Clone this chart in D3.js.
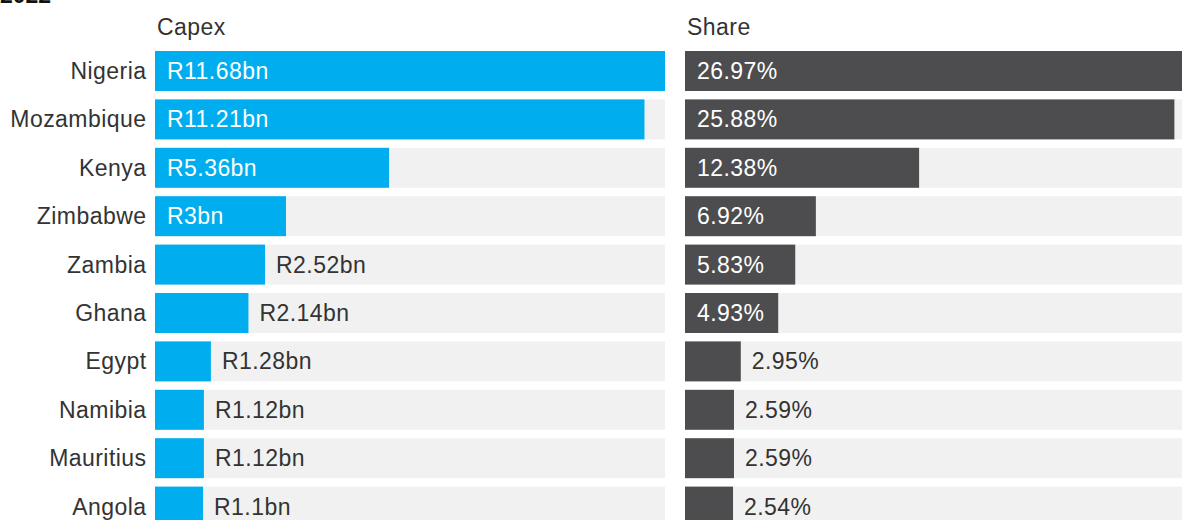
<!DOCTYPE html>
<html>
<head>
<meta charset="utf-8">
<script src="https://cdn.jsdelivr.net/npm/d3@7"></script>
<style>
  html, body { margin: 0; padding: 0; background: #fff; }
  svg { display: block; font-family: "Liberation Sans", Arial, Helvetica, sans-serif; }
</style>
</head>
<body>
<svg id="chart" width="1182" height="520"></svg>
<script>
const title = "2022";
const countries = ["Nigeria", "Mozambique", "Kenya", "Zimbabwe", "Zambia", "Ghana", "Egypt", "Namibia", "Mauritius", "Angola"];
const capex = [11.68, 11.21, 5.36, 3, 2.52, 2.14, 1.28, 1.12, 1.12, 1.1];
const capexLabels = ["R11.68bn", "R11.21bn", "R5.36bn", "R3bn", "R2.52bn", "R2.14bn", "R1.28bn", "R1.12bn", "R1.12bn", "R1.1bn"];
const share = [26.97, 25.88, 12.38, 6.92, 5.83, 4.93, 2.95, 2.59, 2.59, 2.54];
const shareLabels = ["26.97%", "25.88%", "12.38%", "6.92%", "5.83%", "4.93%", "2.95%", "2.59%", "2.59%", "2.54%"];
const panelTitles = ["Capex", "Share"];

const svg = d3.select("#chart");
const fontSize = 23;
const spacing = "0.45px";
const textColor = "#333333";

svg.append("text")
  .attr("x", 0).attr("y", 3)
  .attr("font-size", 23).attr("font-weight", "bold")
  .attr("fill", "#111")
  .text(title);

const y = d3.scaleBand()
  .domain(countries)
  .range([46.8, 46.8 + 48.4 * countries.length])
  .paddingInner(0.174)
  .paddingOuter(0.087);

// country labels
svg.append("g").selectAll("text")
  .data(countries)
  .join("text")
  .attr("x", 146.5)
  .attr("y", d => y(d) + y.bandwidth() / 2)
  .attr("dy", "0.35em")
  .attr("text-anchor", "end")
  .attr("font-size", fontSize)
  .attr("letter-spacing", spacing)
  .attr("fill", textColor)
  .text(d => d);

const panels = [
  { title: panelTitles[0], values: capex, labels: capexLabels, x0: 155, width: 510, color: "#00AEEF" },
  { title: panelTitles[1], values: share, labels: shareLabels, x0: 685, width: 510, color: "#4D4D4F" }
];

panels.forEach(p => {
  const x = d3.scaleLinear().domain([0, d3.max(p.values)]).range([p.x0, p.x0 + p.width]);
  const g = svg.append("g");

  g.append("text")
    .attr("x", p.x0 + 2).attr("y", 35)
    .attr("font-size", fontSize)
    .attr("letter-spacing", spacing)
    .attr("fill", textColor)
    .text(p.title);

  // background tracks
  g.selectAll("rect.bg")
    .data(countries)
    .join("rect")
    .attr("class", "bg")
    .attr("x", p.x0)
    .attr("y", d => y(d))
    .attr("width", p.width)
    .attr("height", y.bandwidth())
    .attr("fill", "#F1F1F1");

  // bars
  g.selectAll("rect.bar")
    .data(p.values)
    .join("rect")
    .attr("class", "bar")
    .attr("x", p.x0)
    .attr("y", (d, i) => y(countries[i]))
    .attr("width", d => x(d) - p.x0)
    .attr("height", y.bandwidth())
    .attr("fill", p.color);

  // labels
  const labels = g.selectAll("text.val")
    .data(p.values)
    .join("text")
    .attr("class", "val")
    .attr("y", (d, i) => y(countries[i]) + y.bandwidth() / 2)
    .attr("dy", "0.35em")
    .attr("font-size", fontSize)
    .attr("letter-spacing", spacing)
    .text((d, i) => p.labels[i]);

  labels.each(function(d) {
    const tw = this.getComputedTextLength();
    const bw = x(d) - p.x0;
    const inside = tw + 22 < bw;
    d3.select(this)
      .attr("x", inside ? p.x0 + 12 : x(d) + 11)
      .attr("fill", inside ? "#ffffff" : textColor);
  });
});
</script>
</body>
</html>
